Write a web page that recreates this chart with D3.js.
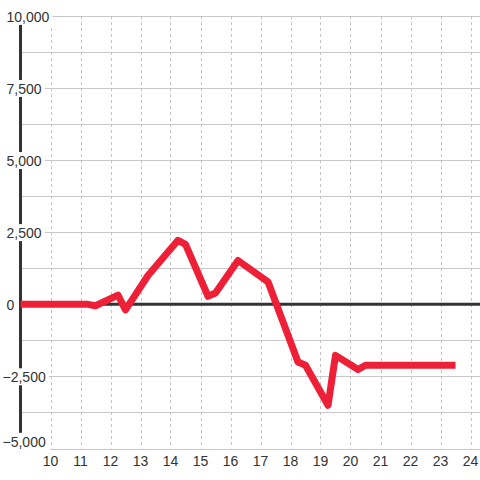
<!DOCTYPE html>
<html>
<head>
<meta charset="utf-8">
<script src="https://cdnjs.cloudflare.com/ajax/libs/d3/7.8.5/d3.min.js"></script>
<style>
    body { margin: 0; background: #fff; }
    text { font-family: "Liberation Sans", Arial, sans-serif; font-size: 14px; fill: #333; }
</style>
</head>
<body>
<div class="chart"></div>
<script>
// data
var hours = [9, 11.25, 11.5, 12.25, 12.5, 13.25, 14.25, 14.5, 15.25, 15.5, 16.25, 17.25, 18.25, 18.5, 19.25, 19.5, 20.25, 20.5, 23.5];
var values = [0, 0, -50, 320, -190, 1000, 2220, 2080, 280, 390, 1520, 780, -2000, -2110, -3500, -1770, -2260, -2110, -2110];
var yTicks = [-5000, -2500, 0, 2500, 5000, 7500, 10000];
var xTicks = [10, 11, 12, 13, 14, 15, 16, 17, 18, 19, 20, 21, 22, 23, 24];

var width = 480,
    height = 480;

var x = d3.scaleLinear()
    .domain([9, 24])
    .range([20.5, 470.5]);

var y = d3.scaleLinear()
    .domain([-5000, 10000])
    .range([448.5, 16]);

var svg = d3.select(".chart")
    .append("svg")
    .attr("width", width)
    .attr("height", height);

// horizontal grid, every 1250
var hGrid = d3.range(-5000, 10001, 1250);
svg.append("g")
    .selectAll("line")
    .data(hGrid)
    .enter().append("line")
    .attr("x1", function (d) { return d === -5000 ? x(10) : x(9); })
    .attr("x2", width)
    .attr("y1", function (d) { return Math.round(y(d)) + 0.5; })
    .attr("y2", function (d) { return Math.round(y(d)) + 0.5; })
    .style("stroke", "#c8c8c8")
    .style("stroke-width", 1);

// vertical dashed grid
svg.append("g")
    .selectAll("line")
    .data(xTicks)
    .enter().append("line")
    .attr("x1", function (d) { return Math.round(x(d)) + 0.5; })
    .attr("x2", function (d) { return Math.round(x(d)) + 0.5; })
    .attr("y1", y(10000))
    .attr("y2", y(-5000))
    .style("stroke", "#c4c4c4")
    .style("stroke-width", 1)
    .style("stroke-dasharray", "3,3");

// y axis line
svg.append("line")
    .attr("x1", x(9))
    .attr("x2", x(9))
    .attr("y1", y(10000))
    .attr("y2", y(-5000))
    .style("stroke", "#333")
    .style("stroke-width", 3);

// zero line
svg.append("line")
    .attr("x1", x(9))
    .attr("x2", width)
    .attr("y1", y(0))
    .attr("y2", y(0))
    .style("stroke", "#333")
    .style("stroke-width", 3);

// y labels with white boxes
var fmt = d3.format(",");
var yl = svg.append("g")
    .selectAll("g")
    .data(yTicks)
    .enter().append("g")
    .attr("transform", function (d) { return "translate(0," + y(d) + ")"; });

yl.append("rect")
    .attr("class", "bg")
    .style("fill", "#fff");

yl.append("text")
    .attr("x", function (d) { return d < 0 ? 2.5 : 6.5; })
    .attr("dy", function (d) { return d === -5000 ? "-0.12em" : "0.42em"; })
    .text(function (d) { return fmt(d); });

yl.each(function (d) {
    var g = d3.select(this);
    if (d === 0) {
        g.select("rect").remove();
        return;
    }
    var b = g.select("text").node().getBBox();
    g.select("rect")
        .attr("x", b.x - 1)
        .attr("y", b.y - 1)
        .attr("width", b.width + 4)
        .attr("height", b.height + 1);
});

// x labels
svg.append("g")
    .selectAll("text")
    .data(xTicks)
    .enter().append("text")
    .attr("x", function (d) { return x(d); })
    .attr("y", 466)
    .attr("text-anchor", "middle")
    .text(function (d) { return d; });

// line
var line = d3.line()
    .x(function (d) { return x(d[0]); })
    .y(function (d) { return y(d[1]); });

var pts = hours.map(function (h, i) { return [h, values[i]]; });

svg.append("path")
    .datum(pts)
    .attr("d", line)
    .style("fill", "none")
    .style("stroke", "#ee2038")
    .style("stroke-width", 7)
    .style("stroke-linejoin", "round");
</script>
</body>
</html>
